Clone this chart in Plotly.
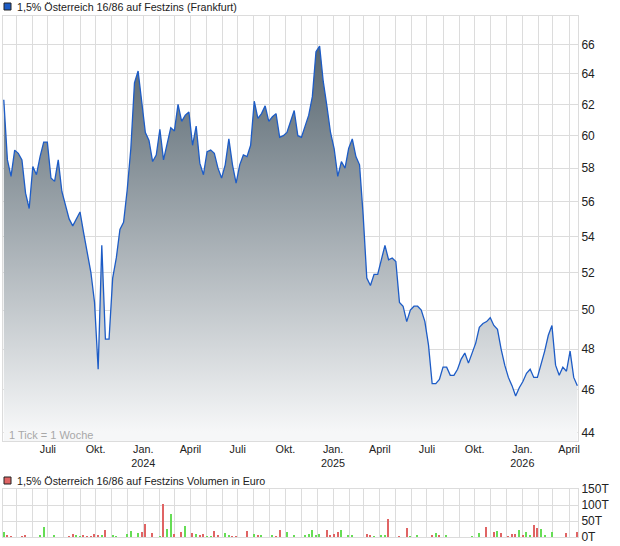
import pandas as pd
import plotly.graph_objects as go

# weekly closing prices (Fridays)
start_date = "2023-04-07"
prices = [
    62.3, 58.5, 57.5, 59.1, 58.9, 58.5, 56.5, 55.6, 58.1, 57.6,
    58.7, 59.6, 59.6, 57.4, 57.2, 58.5, 56.6, 55.7, 55.0, 54.6,
    55.0, 55.4, 54.2, 53.0, 52.0, 50.4, 47.0, 53.5, 48.5, 48.5,
    51.7, 52.8, 54.4, 54.8, 56.7, 59.2, 63.4, 64.2, 62.2, 60.2,
    59.7, 58.4, 58.8, 60.4, 58.5, 59.4, 60.5, 60.3, 62.0, 60.9,
    61.3, 61.5, 59.4, 60.6, 58.3, 57.6, 59.0, 59.1, 58.9, 58.0,
    57.4, 58.2, 59.8, 58.2, 57.1, 58.2, 58.8, 58.7, 59.4, 62.2,
    61.1, 61.4, 61.9, 60.9, 61.2, 61.4, 59.9, 60.0, 60.2, 60.9,
    61.6, 60.0, 59.9, 60.6, 61.3, 62.5, 65.5, 65.9, 63.5, 61.9,
    60.2, 59.2, 57.5, 58.4, 58.0, 59.2, 59.8, 58.7, 58.2, 55.2,
    51.7, 51.3, 51.9, 51.9, 52.7, 53.5, 52.7, 52.8, 52.6, 50.4,
    50.2, 49.4, 50.0, 50.2, 50.2, 50.0, 49.4, 48.2, 46.3, 46.3,
    46.5, 47.1, 47.1, 46.7, 46.7, 47.0, 47.5, 47.8, 47.3, 47.8,
    48.3, 49.1, 49.3, 49.4, 49.6, 49.2, 49.0, 48.0, 47.2, 46.6,
    46.2, 45.7, 46.1, 46.4, 46.8, 47.0, 46.6, 46.6, 47.2, 47.9,
    48.7, 49.2, 47.2, 46.7, 47.1, 46.9, 47.9, 46.6, 46.2,
]
dates = pd.date_range(start_date, periods=len(prices), freq="7D")

# weekly volume in thousand euro (week index, value, g = up / r = down)
vol_week = [
    0, 1, 2, 5, 6, 10, 11, 14, 18, 19, 20, 21, 22, 23, 24, 25, 26, 27, 28, 30,
    31, 34, 35, 37, 38, 39, 41, 43, 44, 45, 46, 47, 49, 50, 52, 53, 54, 55, 56, 57,
    58, 59, 61, 62, 63, 64, 67, 69, 70, 71, 74, 75, 76, 78, 80, 83, 84, 85, 86, 87,
    89, 90, 91, 92, 93, 95, 96, 100, 101, 102, 104, 105, 106, 109, 111, 112, 114, 118, 119, 120,
    122, 129, 131, 133, 135, 136, 137, 139, 140, 141, 142, 143, 144, 145, 146, 147, 148, 149, 151, 155,
    158,
]
vol_teur = [
    15, 4, 2, 2, 5, 5, 31, 5, 2, 9, 5, 2, 5, 2, 3, 8, 5, 5, 21, 5,
    2, 8, 18, 12, 15, 40, 12, 2, 104, 24, 72, 8, 15, 34, 12, 8, 5, 8, 2, 2,
    18, 5, 12, 5, 2, 2, 18, 8, 5, 5, 5, 2, 21, 15, 5, 5, 9, 22, 5, 9,
    21, 4, 9, 16, 22, 5, 5, 9, 4, 2, 5, 5, 56, 2, 27, 2, 5, 5, 12, 5,
    5, 2, 12, 31, 15, 18, 12, 2, 8, 8, 21, 5, 15, 5, 37, 27, 24, 5, 15, 12,
    15,
]
vol_dir = ("grrrr" "gggrr" "ggrrr" "rrgrg" "ggggr" "rrgrg" "grrgr" "grrgg"
           "rrggr" "rrgrg" "grrgg" "ggggg" "rrrrg" "ggrrg" "ggrrr" "ggrgr"
           "gggrr" "grrrr" "grggr" "rgggr" "r")
vol_dates = dates[vol_week]

price_ticks = list(range(44, 67, 2))
vol_ticks = [0, 50, 100, 150]
month_names = {1: "Jan.", 4: "April", 7: "Juli", 10: "Okt."}
grid_months = pd.date_range("2023-05-01", "2026-04-01", freq="MS")

title_text = "1,5% Österreich 16/86 auf Festzins (Frankfurt)"
volume_text = "1,5% Österreich 16/86 auf Festzins Volumen in Euro"

# pixel geometry of the 620x546 canvas
W, H = 620, 546
L, R, T, B = 3, 42, 16, 9
PW, PH = W - L - R, H - T - B


def px(x):
    return (x - L) / PW


def py(y):
    return (H - B - y) / PH


month_text = []
for d in grid_months:
    if d.month in month_names:
        lab = month_names[d.month]
        if d.month == 1:
            lab += "<br>" + str(d.year)
        month_text.append(lab)
    else:
        month_text.append("")

font = "Arial, 'Liberation Sans', sans-serif"
grid_col = "#dcdcdc"
RED, GREEN = "#e06464", "#66dd55"

fig = go.Figure()

fig.add_trace(go.Scatter(
    x=dates, y=prices, mode="lines",
    line=dict(color="#1d5cc6", width=1.3),
    fill="tozeroy",
    fillgradient=dict(type="vertical",
                      colorscale=[[0, "#f6f7f8"], [1, "#56656f"]],
                      start=44, stop=66),
    hoverinfo="x+y", showlegend=False,
    xaxis="x", yaxis="y",
))

fig.add_trace(go.Bar(
    x=vol_dates, y=vol_teur,
    marker=dict(color=[GREEN if c == "g" else RED for c in vol_dir], line_width=0),
    width=2.6 * 86400000,
    showlegend=False, xaxis="x2", yaxis="y2",
))

xrange = ["2023-04-05 12:00", "2026-04-18 06:00"]
axis_common = dict(showgrid=True, gridcolor=grid_col, gridwidth=1,
                   showline=True, linecolor=grid_col, mirror=True,
                   zeroline=False, ticks="")

fig.update_layout(
    width=W, height=H,
    margin=dict(l=L, r=R, t=T, b=B, autoexpand=False),
    paper_bgcolor="white", plot_bgcolor="white",
    font=dict(family=font, size=11, color="#222"),
    bargap=0,
    xaxis=dict(domain=[0, 1], range=xrange, type="date",
               tickmode="array", tickvals=grid_months, ticktext=month_text,
               tickfont=dict(size=10.8, color="#222"), ticklabelstandoff=-2,
               anchor="y", **axis_common),
    yaxis=dict(domain=[py(441), 1], type="log",
               range=[1.6395, 1.8325], side="right",
               tickmode="array", tickvals=price_ticks,
               ticktext=[str(v) for v in price_ticks],
               tickfont=dict(size=12, color="#222"), anchor="x",
               **axis_common),
    xaxis2=dict(domain=[0, 1], range=xrange, type="date",
                tickmode="array", tickvals=grid_months,
                showticklabels=False, anchor="y2", **axis_common),
    yaxis2=dict(domain=[0, py(489)], range=[0, 150], side="right",
                tickmode="array", tickvals=vol_ticks,
                ticktext=[f"{v}T" for v in vol_ticks],
                tickfont=dict(size=12, color="#222"),
                anchor="x2", **axis_common),
)

# legend squares and titles
fig.add_shape(type="rect", xref="paper", yref="paper",
              x0=px(4), x1=px(11), y0=py(3), y1=py(10),
              fillcolor="#1d5cc6", line=dict(color="#222", width=1))
fig.add_annotation(x=px(15), y=py(7), xref="paper", yref="paper",
                   text=title_text, showarrow=False, xanchor="left",
                   yanchor="middle", font=dict(size=10.7, color="#222"))
fig.add_shape(type="rect", xref="paper", yref="paper",
              x0=px(4), x1=px(11), y0=py(477), y1=py(484),
              fillcolor=RED, line=dict(color="#222", width=1))
fig.add_annotation(x=px(15), y=py(481), xref="paper", yref="paper",
                   text=volume_text, showarrow=False, xanchor="left",
                   yanchor="middle", font=dict(size=10.7, color="#222"))
fig.add_annotation(x=px(7), y=py(435), xref="paper", yref="paper",
                   text="1 Tick = 1 Woche", showarrow=False, xanchor="left",
                   yanchor="middle", font=dict(size=11, color="#a8a8a8"))

# the page's default body margin would shift the figure by 8px
fig.write_html("out.html",
               config={"displayModeBar": False},
               post_script="document.body.style.margin='0';")
